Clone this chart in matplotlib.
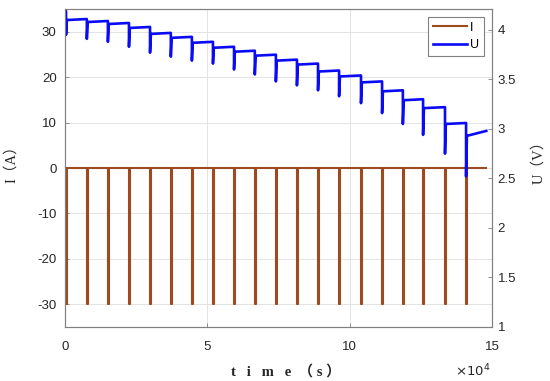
import numpy as np
import matplotlib.pyplot as plt

# pulse start times (s)
pulse_t = [400, 7700, 15100, 22500, 29900, 37200, 44600, 52000, 59400, 66700,
           74100, 81500, 88900, 96300, 104000, 111400, 118700, 125800, 133500, 140900]
pulse_dur = 300
pulse_current = -30
t_end = 148000

# voltage: value at t=0, minimum during each pulse, rest value after / before next pulse
u_start = 4.19
u_dip = [3.95, 3.91, 3.88, 3.83, 3.77, 3.73, 3.69, 3.66, 3.60, 3.55,
         3.48, 3.44, 3.39, 3.33, 3.26, 3.16, 3.05, 2.94, 2.75, 2.52]
u_rest_start = [4.10, 4.08, 4.06, 4.02, 3.96, 3.92, 3.87, 3.82, 3.78, 3.74,
                3.69, 3.65, 3.58, 3.53, 3.47, 3.38, 3.29, 3.21, 3.05, 2.93]
u_rest_end = [4.11, 4.09, 4.07, 4.03, 3.97, 3.93, 3.88, 3.83, 3.79, 3.75,
              3.70, 3.66, 3.59, 3.54, 3.48, 3.39, 3.30, 3.22, 3.06, 2.98]


def main():
    # build step series
    ti, ii = [0], [0]
    tu, uu = [0], [u_start]
    for k, t0 in enumerate(pulse_t):
        t1 = t0 + pulse_dur
        ti += [t0, t0, t1, t1]
        ii += [0, pulse_current, pulse_current, 0]
        tu += [t0, t0, t1]
        uu += [uu[-1], u_dip[k], u_rest_start[k]]
        t_next = pulse_t[k + 1] if k + 1 < len(pulse_t) else t_end
        tu.append(t_next)
        uu.append(u_rest_end[k])
    ti.append(t_end)
    ii.append(0)

    plt.rcParams['font.family'] = ['Liberation Sans', 'DejaVu Sans']
    plt.rcParams['axes.unicode_minus'] = False
    fig = plt.figure(figsize=(5.5, 3.81), dpi=100)
    ax = fig.add_axes([0.118, 0.142, 0.7765, 0.834])
    ax2 = ax.twinx()

    brown = '#9c4a1e'
    blue = '#0a0af5'
    lineI, = ax.plot(ti, ii, color=brown, lw=1.5, label='I')
    lineU, = ax2.plot(tu, uu, color=blue, lw=1.9, label='U')

    ax.set_xlim(0, 150000)
    ax.set_ylim(-35, 35)
    ax2.set_ylim(1, 4.21)
    ax.set_xticks([0, 50000, 100000, 150000])
    ax.set_xticklabels(['0', '5', '10', '15'])
    ax.set_yticks([-30, -20, -10, 0, 10, 20, 30])
    ax2.set_yticks([1, 1.5, 2, 2.5, 3, 3.5, 4])
    ax2.set_yticklabels(['1', '1.5', '2', '2.5', '3', '3.5', '4'])

    ax.grid(True, color='#e3e3e3', lw=0.7)
    ax.set_axisbelow(True)
    for a in (ax, ax2):
        for s in a.spines.values():
            s.set_color('#808080')
            s.set_linewidth(0.8)
        a.tick_params(direction='in', length=3, width=0.6, color='#808080',
                      labelsize=9.5, labelcolor='#262626')
    ax.tick_params(axis='y', pad=6)
    ax2.tick_params(axis='y', pad=4)
    ax.tick_params(axis='x', pad=10)

    lab = dict(family=['Liberation Serif', 'Noto Sans CJK SC'], fontsize=10.5,
               color='#262626', ha='center', va='center')
    fig.text(11 / 550, 1 - 161 / 381, 'I（A）', rotation=90, **lab)
    fig.text(538 / 550, 1 - 159 / 381, 'U（V）', rotation=90, **lab)
    fig.text(286 / 550, 1 - 372 / 381, 't   i   m   e  （ s ）', fontweight='bold', **lab)

    fig.text(0.828, 0.012, r'$\times10^{4}$', fontsize=9.5, color='#262626')

    leg = ax2.legend(handles=[lineI, lineU], loc='upper right', fontsize=9,
                     fancybox=False, framealpha=1, edgecolor='#808080',
                     handlelength=2.7, handletextpad=0.3, borderpad=0.4,
                     labelspacing=0.45, borderaxespad=0.6)
    leg.get_frame().set_linewidth(0.8)

    plt.savefig('out.png', dpi=100)


if __name__ == '__main__':
    main()
